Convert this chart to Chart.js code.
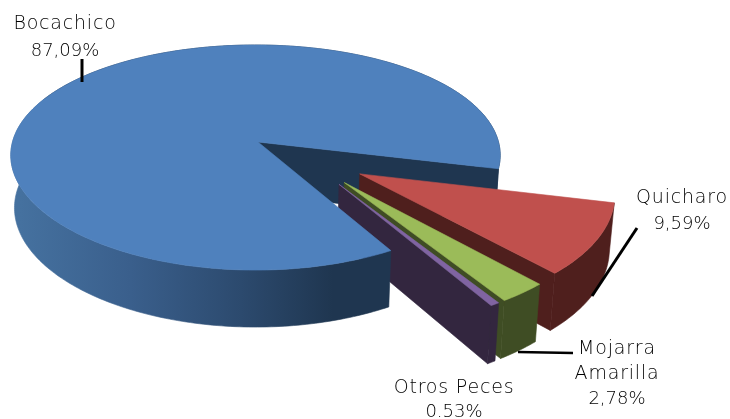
<!DOCTYPE html>
<html><head><meta charset="utf-8">
<style>html,body{margin:0;padding:0;background:#fff}#w{width:730px;height:419px}</style>
<script src="https://cdn.jsdelivr.net/npm/chart.js@4/dist/chart.umd.min.js"></script>
</head><body><div id="w"><canvas id="c" width="730" height="419"></canvas></div>
<script>
const categories = ['Bocachico','Quicharo','Mojarra Amarilla','Otros Peces'];
const values = [87.09, 9.59, 2.78, 0.53];
const valueTexts = ['87,09%','9,59%','2,78%','0.53%'];
const topColors = ['#4f81bd','#c0504d','#9bbb59','#8064a2'];
const wallColors = ['#1f3650','#4f1f1d','#3f4d24','#33263f'];

// view of the tilted pie: perspective projection of the flat pie plane
const view = {x0:255.5,y0:142,a:110.4,b:243,p:0.138,px:0.118,sx:0.985,d0:52,d1:5,explode:25,apexShift:0.0103};
function P(u,v,low){
  let X=view.x0+view.b*u/(1-view.px*v), Y=view.y0+view.a*v/(1-view.p*v);
  if(low){X=view.x0+(X-view.x0)*view.sx;Y+=view.d0+view.d1*v;}
  return [X,Y];
}
const labelBlocks = [
  {lines:['Bocachico','87,09%'],x:65,y:[29,56],lead:[[82,59],[82,82]],lw:3},
  {lines:['Quicharo','9,59%'],x:682,y:[203,229],lead:[[637,228],[592,296]],lw:3},
  {lines:['Mojarra','Amarilla','2,78%'],x:617,y:[354,379,404],lead:[[518,352],[573,353]],lw:2.5},
  {lines:['Otros Peces','0.53%'],x:454,y:[393,417]}
];
const pie3d = {
  id:'pie3d',
  beforeDatasetDraw(chart,args){
    const ctx=chart.ctx, arcs=args.meta.data;
    const m=arcs[0].options.offset/100;
    const mid=a=>(a.startAngle+a.endAngle)/2;
    const T=[-m*Math.cos(mid(arcs[0])),-m*Math.sin(mid(arcs[0]))];
    const geo=arcs.map((a,i)=>({s:a.startAngle,e:a.endAngle,ax:i?0:view.apexShift,
      cx:T[0]+m*Math.cos(mid(a)),cy:T[1]+m*Math.sin(mid(a))}));
    const pt=(g,t,low)=>P(g.cx+Math.cos(t),g.cy+Math.sin(t),low);
    const ctr=(g,low)=>P(g.cx+g.ax,g.cy,low);
    function poly(list,fill){
      ctx.beginPath();list.forEach((q,i)=>i?ctx.lineTo(q[0],q[1]):ctx.moveTo(q[0],q[1]));
      ctx.closePath();ctx.fillStyle=fill;ctx.fill();
      ctx.strokeStyle=fill;ctx.lineWidth=0.6;ctx.lineJoin='round';ctx.stroke();
    }
    function arcPts(g,s,e,low){
      const n=Math.max(4,Math.ceil(Math.abs(e-s)*60)),r=[];
      for(let i=0;i<=n;i++)r.push(pt(g,s+(e-s)*i/n,low));
      return r;
    }
    function top(g,c){poly([ctr(g,false),...arcPts(g,g.s,g.e,false)],c);}
    function wall(g,s,e,c){poly([...arcPts(g,s,e,false),...arcPts(g,s,e,true).reverse()],c);}
    function cut(g,c){poly([ctr(g,false),pt(g,g.e,false),pt(g,g.e,true),ctr(g,true)],c);}
    const main=geo[0];
    const split=main.s+Math.PI*0.8;
    // back of the big slice
    wall(main,split,main.e,wallColors[0]);
    cut(main,wallColors[0]);
    // pulled-out slices, back to front
    for(let i=1;i<geo.length;i++){
      wall(geo[i],geo[i].s,geo[i].e,wallColors[i]);
      cut(geo[i],wallColors[i]);
      top(geo[i],topColors[i]);
    }
    // front of the big slice
    const grad=ctx.createLinearGradient(20,0,388,0);
    grad.addColorStop(0,'#45719f');
    grad.addColorStop(0.3,'#3a5f8c');
    grad.addColorStop(0.6,'#2c4a6e');
    grad.addColorStop(0.85,'#1f3650');
    grad.addColorStop(1,'#1f3650');
    wall(main,main.s,split,grad);
    top(main,topColors[0]);
    return false;
  },
  afterDraw(chart){
    const ctx=chart.ctx;
    ctx.save();
    ctx.strokeStyle='#000';ctx.lineCap='butt';
    labelBlocks.forEach(b=>{
      if(b.lead){ctx.lineWidth=b.lw;ctx.beginPath();ctx.moveTo(...b.lead[0]);ctx.lineTo(...b.lead[1]);ctx.stroke();}
      ctx.fillStyle='#000';ctx.textAlign='center';ctx.textBaseline='alphabetic';
      b.lines.forEach((t,i)=>{
        const isVal=valueTexts.includes(t);
        ctx.font=(isVal?'200 18px':'200 19px')+' "DejaVu Sans"';
        ctx.letterSpacing=isVal?'0px':'0.8px';
        ctx.fillText(t,b.x,b.y[i]);
      });
    });
    ctx.restore();
  }
};
new Chart(document.getElementById('c'),{
  type:'pie',
  data:{labels:categories,datasets:[{data:values,backgroundColor:topColors,borderWidth:0,offset:view.explode}]},
  options:{responsive:false,animation:false,events:[],rotation:150,
    plugins:{legend:{display:false},tooltip:{enabled:false}}},
  plugins:[pie3d]
});
</script></body></html>
